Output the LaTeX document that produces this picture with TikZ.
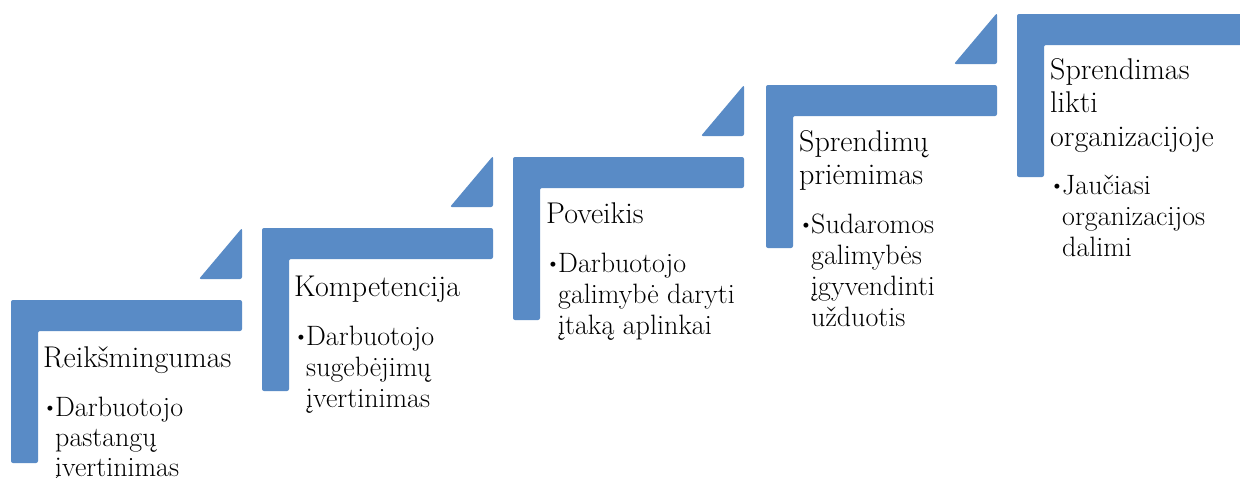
\documentclass[tikz,border=0pt]{standalone}
\usepackage{fontspec}
\newfontfamily\stepserif{Latin Modern Roman}
\definecolor{stepblue}{RGB}{89,139,198}
% bullet hanging to the left of the first description line
\newcommand\bulletmark{\llap{\makebox[13pt][l]{\fontsize{22}{24}\selectfont\raisebox{2pt}{•}}}}
% lines stacked at a fixed distance, baseline of the block = first line
\newcommand\stacklines[2]{\vtop{\baselineskip=#1\lineskiplimit=-100pt\lineskip=0pt
  \halign{##\hfil\cr #2\cr}}}
\tikzset{
  stepfill/.style={fill=stepblue, rounded corners=2pt},
  ttl/.style={font=\stepserif\fontsize{30}{33}\selectfont, anchor=base west, inner sep=0pt, text=black},
  itm/.style={font=\stepserif\fontsize{28}{31}\selectfont, anchor=base west, inner sep=0pt, text=black},
}
% one step: L-shaped corner plus the small triangle above its right end
% #1 = left edge, #2 = top edge (pixel-like units, y pointing down)
\newcommand\stairstep[2]{%
  \path[stepfill] (#1,#2) -- (#1+231,#2) -- (#1+231,#2+31) -- (#1+27,#2+31)
        -- (#1+27,#2+163) -- (#1,#2+163) -- cycle;
  \path[stepfill] (#1+231,#2-72) -- (#1+231,#2-21) -- (#1+188,#2-21) -- cycle;
}
\begin{document}
\begin{tikzpicture}[x=1pt,y=-1pt]
\clip (0,0) rectangle (1240,477);
\fill[white] (0,0) rectangle (1240,477);

\stairstep{11}{300}
\stairstep{262}{228}
\stairstep{513}{157}
\stairstep{766}{85}
\stairstep{1017}{14}

% step 1
\node[ttl] (s1t) at (43,367) {Reikšmingumas};
\node[itm] (s1d) at (55,416)
  {\stacklines{30pt}{\bulletmark Darbuotojo\cr pastangų\cr įvertinimas}};

% step 2
\node[ttl] (s2t) at (294,296) {Kompetencija};
\node[itm] (s2d) at (306,345)
  {\stacklines{31pt}{\bulletmark Darbuotojo\cr sugebėjimų\cr įvertinimas}};

% step 3
\node[ttl] (s3t) at (546,223) {Poveikis};
\node[itm] (s3d) at (558,272)
  {\stacklines{31pt}{\bulletmark Darbuotojo\cr galimybė daryti\cr įtaką aplinkai}};

% step 4
\node[ttl] (s4t) at (799,151) {\stacklines{33pt}{Sprendimų\cr priėmimas}};
\node[itm] (s4d) at (811,233)
  {\stacklines{31pt}{\bulletmark Sudaromos\cr galimybės\cr įgyvendinti\cr užduotis}};

% step 5
\node[ttl] (s5t) at (1050,79) {\stacklines{33.5pt}{Sprendimas\cr likti\cr organizacijoje}};
\node[itm] (s5d) at (1062,194)
  {\stacklines{31pt}{\bulletmark Jaučiasi\cr organizacijos\cr dalimi}};
\end{tikzpicture}
\end{document}
